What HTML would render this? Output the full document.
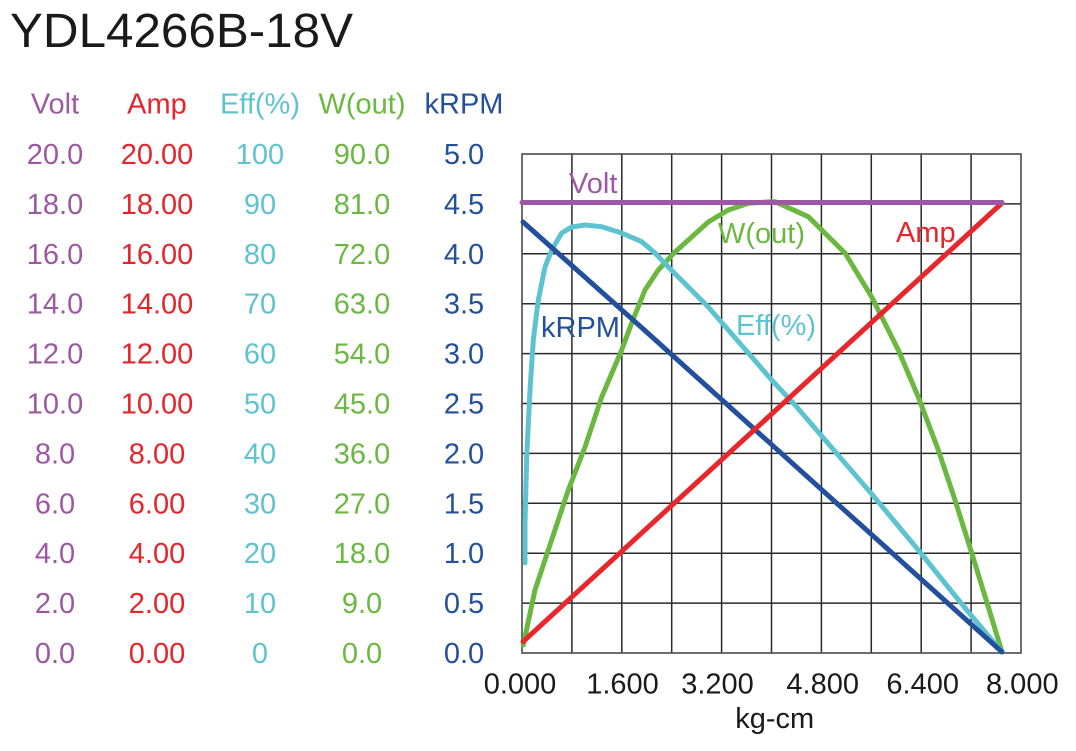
<!DOCTYPE html>
<html>
<head>
<meta charset="utf-8">
<style>
  html, body { margin:0; padding:0; background:#fff; }
  svg { display:block; }
  text { font-family: "Liberation Sans", Arial, sans-serif; }
</style>
</head>
<body>
<svg width="1076" height="751" viewBox="0 0 1076 751" xmlns="http://www.w3.org/2000/svg">
  <rect x="0" y="0" width="1076" height="751" fill="#fff"/>

  <!-- Title -->
  <text x="10" y="47" font-size="48" fill="#1a1a1a" textLength="343" lengthAdjust="spacingAndGlyphs">YDL4266B-18V</text>

  <!-- Left axis columns -->
  <g font-size="29" text-anchor="middle">
    <text x="55" y="113.5" fill="#9d58a3">Volt</text>
    <text x="157" y="113.5" fill="#e6252b">Amp</text>
    <text x="260" y="113.5" fill="#5ec3d0">Eff(%)</text>
    <text x="362" y="113.5" fill="#6ab83f">W(out)</text>
    <text x="464" y="113.5" fill="#23509c">kRPM</text>

    <g fill="#9d58a3">
      <text x="55" y="164">20.0</text>
      <text x="55" y="213.9">18.0</text>
      <text x="55" y="263.8">16.0</text>
      <text x="55" y="313.7">14.0</text>
      <text x="55" y="363.6">12.0</text>
      <text x="55" y="413.5">10.0</text>
      <text x="55" y="463.4">8.0</text>
      <text x="55" y="513.3">6.0</text>
      <text x="55" y="563.2">4.0</text>
      <text x="55" y="613.1">2.0</text>
      <text x="55" y="663">0.0</text>
    </g>
    <g fill="#e6252b">
      <text x="157" y="164">20.00</text>
      <text x="157" y="213.9">18.00</text>
      <text x="157" y="263.8">16.00</text>
      <text x="157" y="313.7">14.00</text>
      <text x="157" y="363.6">12.00</text>
      <text x="157" y="413.5">10.00</text>
      <text x="157" y="463.4">8.00</text>
      <text x="157" y="513.3">6.00</text>
      <text x="157" y="563.2">4.00</text>
      <text x="157" y="613.1">2.00</text>
      <text x="157" y="663">0.00</text>
    </g>
    <g fill="#5ec3d0">
      <text x="260" y="164">100</text>
      <text x="260" y="213.9">90</text>
      <text x="260" y="263.8">80</text>
      <text x="260" y="313.7">70</text>
      <text x="260" y="363.6">60</text>
      <text x="260" y="413.5">50</text>
      <text x="260" y="463.4">40</text>
      <text x="260" y="513.3">30</text>
      <text x="260" y="563.2">20</text>
      <text x="260" y="613.1">10</text>
      <text x="260" y="663">0</text>
    </g>
    <g fill="#6ab83f">
      <text x="362" y="164">90.0</text>
      <text x="362" y="213.9">81.0</text>
      <text x="362" y="263.8">72.0</text>
      <text x="362" y="313.7">63.0</text>
      <text x="362" y="363.6">54.0</text>
      <text x="362" y="413.5">45.0</text>
      <text x="362" y="463.4">36.0</text>
      <text x="362" y="513.3">27.0</text>
      <text x="362" y="563.2">18.0</text>
      <text x="362" y="613.1">9.0</text>
      <text x="362" y="663">0.0</text>
    </g>
    <g fill="#23509c">
      <text x="464" y="164">5.0</text>
      <text x="464" y="213.9">4.5</text>
      <text x="464" y="263.8">4.0</text>
      <text x="464" y="313.7">3.5</text>
      <text x="464" y="363.6">3.0</text>
      <text x="464" y="413.5">2.5</text>
      <text x="464" y="463.4">2.0</text>
      <text x="464" y="513.3">1.5</text>
      <text x="464" y="563.2">1.0</text>
      <text x="464" y="613.1">0.5</text>
      <text x="464" y="663">0.0</text>
    </g>
  </g>

  <!-- Grid -->
  <g stroke="#2a2a2a" stroke-width="1.5" fill="none">
    <line x1="571.9" y1="154" x2="571.9" y2="653"/>
    <line x1="621.8" y1="154" x2="621.8" y2="653"/>
    <line x1="671.7" y1="154" x2="671.7" y2="653"/>
    <line x1="721.6" y1="154" x2="721.6" y2="653"/>
    <line x1="771.5" y1="154" x2="771.5" y2="653"/>
    <line x1="821.4" y1="154" x2="821.4" y2="653"/>
    <line x1="871.3" y1="154" x2="871.3" y2="653"/>
    <line x1="921.2" y1="154" x2="921.2" y2="653"/>
    <line x1="971.1" y1="154" x2="971.1" y2="653"/>

    <line x1="522" y1="203.9" x2="1021" y2="203.9"/>
    <line x1="522" y1="253.8" x2="1021" y2="253.8"/>
    <line x1="522" y1="303.7" x2="1021" y2="303.7"/>
    <line x1="522" y1="353.6" x2="1021" y2="353.6"/>
    <line x1="522" y1="403.5" x2="1021" y2="403.5"/>
    <line x1="522" y1="453.4" x2="1021" y2="453.4"/>
    <line x1="522" y1="503.3" x2="1021" y2="503.3"/>
    <line x1="522" y1="553.2" x2="1021" y2="553.2"/>
    <line x1="522" y1="603.1" x2="1021" y2="603.1"/>
  </g>
  <rect x="522" y="154" width="499" height="499" fill="none" stroke="#4a4a4a" stroke-width="1.6"/>

  <!-- Series -->
  <g fill="none" stroke-width="5" stroke-linejoin="round" stroke-linecap="round">
    <!-- W(out) -->
    <polyline stroke="#6ab83f" points="523.3,645 535,590 548.3,550 568.3,490 585,447 601.7,397 621.7,350 631.7,323 645,290 658.3,270 675,252 691.7,237 708.3,222 728.3,210 748.3,203.3 771.7,201.7 775,201.7 808.3,216.7 845,253 871.7,297 898.3,350 918.3,397 938.3,450 955,500 971.7,553 988.3,607 1002,652"/>
    <!-- Eff -->
    <polyline stroke="#5ec3d0" points="525,563 525,523 526.7,457 530,390 533.3,340 538.3,300 545,267 551.7,250 561.7,233 571.7,227 585,225 601.7,226.7 621.7,233 641.7,241.7 655,253 668.3,267 688.3,287 708.3,307 728.3,330 748.3,353 771.7,380 795,405 821.7,436 871.7,494 918.3,550 965,608 1002,652"/>
    <!-- kRPM -->
    <polyline stroke="#23509c" points="523,222 641,327 1002,652"/>
    <!-- Amp -->
    <polyline stroke="#e8262b" points="523,641.7 1002,203"/>
    <!-- Volt -->
    <polyline stroke="#9d58a3" points="522,202.5 1002,202.5"/>
  </g>

  <!-- In-chart labels -->
  <g font-size="29">
    <text x="569" y="193" fill="#9d58a3">Volt</text>
    <text x="718" y="243" fill="#6ab83f">W(out)</text>
    <text x="896" y="242" fill="#e6252b">Amp</text>
    <text x="541" y="337" fill="#23509c">kRPM</text>
    <text x="736" y="335" fill="#5ec3d0">Eff(%)</text>
  </g>

  <!-- X axis labels -->
  <g font-size="29" fill="#1a1a1a" text-anchor="middle">
    <text x="520" y="693.5">0.000</text>
    <text x="622.5" y="693.5">1.600</text>
    <text x="717.5" y="693.5">3.200</text>
    <text x="822.7" y="693.5">4.800</text>
    <text x="922.7" y="693.5">6.400</text>
    <text x="1022.3" y="693.5">8.000</text>
    <text x="774.7" y="728">kg-cm</text>
  </g>
</svg>
</body>
</html>
